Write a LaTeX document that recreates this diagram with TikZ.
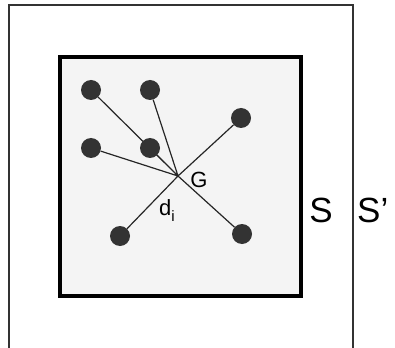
\documentclass[tikz,border=0pt]{standalone}
\usepackage{fontspec}
\setmainfont{Liberation Sans}
\usetikzlibrary{positioning, backgrounds}
\definecolor{dotgray}{HTML}{333333}
\definecolor{areagray}{HTML}{F4F4F4}
\tikzset{
x=1pt, y=-1pt, % work in pixel-like units, y pointing down
point/.style={circle, fill=dotgray, inner sep=0pt, minimum size=20pt}, % the sample points
link/.style={line width=1.2pt, black!85}, % distance from a point to the centre
outer/.style={draw=black!80, line width=1.5pt}, % the large set S'
inner/.style={draw=black, line width=4pt, fill=areagray}, % the set S
setname/.style={font=\fontsize{35}{40}\selectfont, inner sep=0pt},
label/.style={font=\fontsize{22}{26}\selectfont, inner sep=0pt},
}

\begin{document}
\begin{tikzpicture}
        \useasboundingbox (0,0) rectangle (395,347);

        \coordinate (G) at (178,176);

        \node[point] (p1) at (91,90) {};
        \node[point] (p2) at (150,90) {};
        \node[point] (p3) at (241,118) {};
        \node[point] (p4) at (91,148) {};
        \node[point] (p5) at (150,148) {};
        \node[point] (p6) at (120,236) {};
        \node[point] (p7) at (242,234) {};

        \node[label] (g) at (199,180) {G};
        \node[label] (di) at (167,211) {d\raisebox{-6pt}{\fontsize{15}{18}\selectfont i}};

        \node[setname] (S) at (321,210) {S};
        \node[setname, anchor=west] (S2) at (357,210) {S'};

        \begin{scope}[on background layer]
        \draw[outer] (9,5) rectangle (353,370);
        \draw[inner] (60,57) rectangle (301,296);
        \draw[link] (p1) -- (G)
        (p2) -- (G)
        (p3) -- (G)
        (p4) -- (G)
        (p5) -- (G)
        (p6) -- (G)
        (p7) -- (G);
        \end{scope}
      \end{tikzpicture}
\end{document}
